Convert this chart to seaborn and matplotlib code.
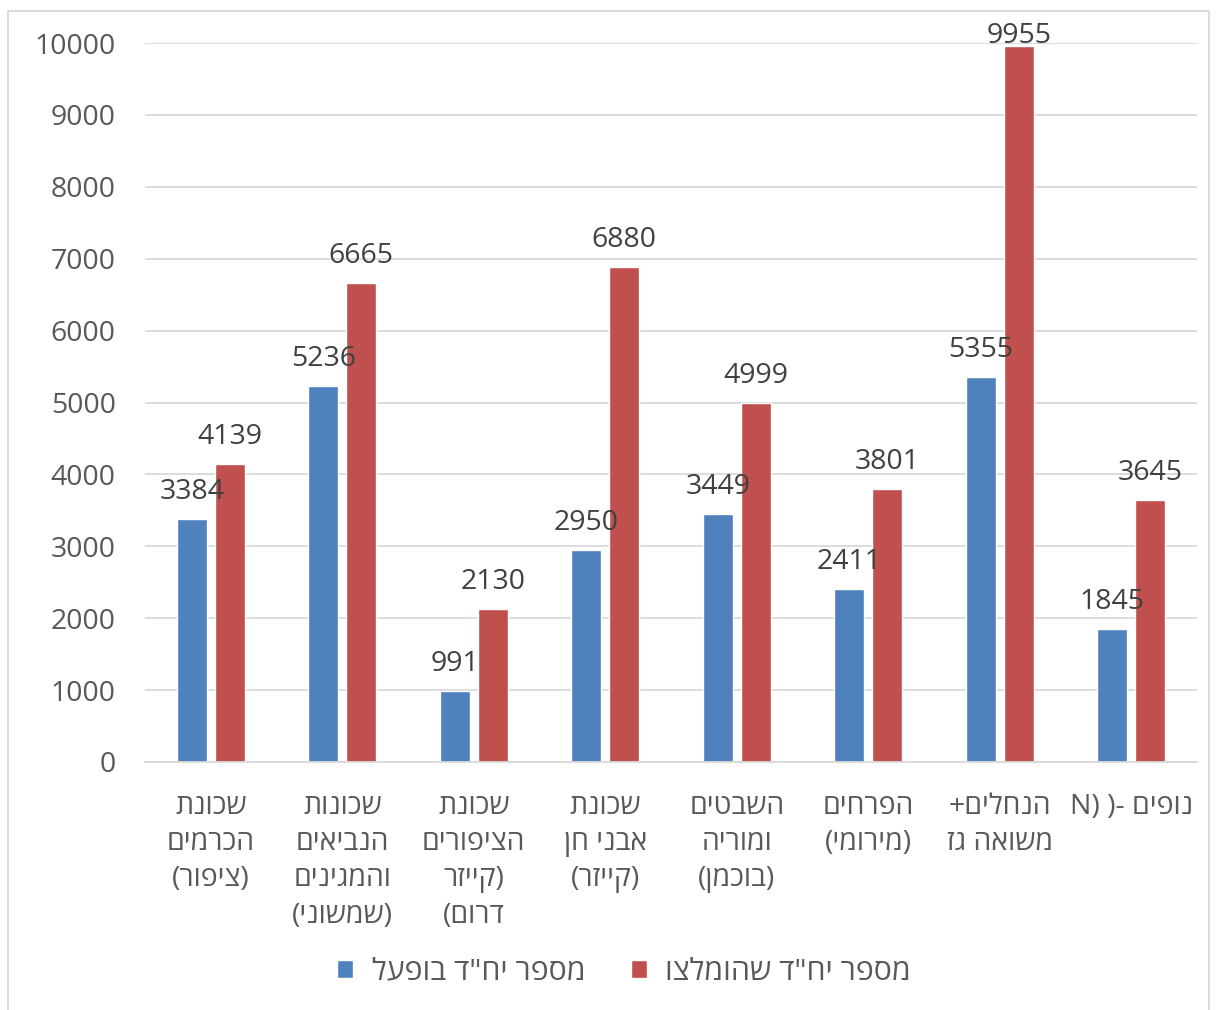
import matplotlib
matplotlib.use("Agg")
import matplotlib.pyplot as plt
import seaborn as sns
import pandas as pd
from matplotlib.patches import Rectangle

# Neighbourhood names, written in logical (reading) order
categories = [
    "שכונת\nהכרמים\n(ציפור)",
    "שכונות\nהנביאים\nוהמגינים\n(שמשוני)",
    "שכונת\nהציפורים\n(קייזר\nדרום)",
    "שכונת\nאבני חן\n(קייזר)",
    "השבטים\nומוריה\n(בוכמן)",
    "הפרחים\n(מירומי)",
    "הנחלים+\nמשואה גז",
    "נופים -( (N",
]

series_names = ['מספר יח"ד בופעל', 'מספר יח"ד שהומלצו']
actual_units = [3384, 5236, 991, 2950, 3449, 2411, 5355, 1845]
recommended_units = [4139, 6665, 2130, 6880, 4999, 3801, 9955, 3645]
y_ticks = [0, 1000, 2000, 3000, 4000, 5000, 6000, 7000, 8000, 9000, 10000]
colors = ["#4F81BD", "#C0504D"]


def visual(text):
    """Turn logical right-to-left text into left-to-right glyph order."""
    mirror = {"(": ")", ")": "("}
    return "\n".join("".join(mirror.get(c, c) for c in line[::-1])
                     for line in text.split("\n"))


sns.set_theme(style="white")
plt.rcParams["font.family"] = ["Open Sans", "DejaVu Sans"]

FS = 20.5
TEXT_GRAY = "#595959"

df = pd.DataFrame({
    "category": [visual(c) for c in categories] * 2,
    "value": actual_units + recommended_units,
    "series": [visual(series_names[0])] * len(actual_units)
    + [visual(series_names[1])] * len(recommended_units),
})

fig = plt.figure(figsize=(12.17, 10.10), dpi=100)
ax = fig.add_axes([145 / 1217, 1 - 762 / 1010, (1197 - 145) / 1217, (762 - 43) / 1010])

sns.barplot(
    data=df, x="category", y="value", hue="series",
    palette=colors, width=0.578, gap=0.22, ax=ax,
    saturation=1, legend=True, errorbar=None,
)

ax.set_ylim(0, 10000)
ax.set_yticks(y_ticks)
ax.set_xlim(-0.5, len(categories) - 0.5)
ax.yaxis.grid(True, color="#d9d9d9", linewidth=1.3)
ax.set_axisbelow(True)
for s in ["top", "right", "left"]:
    ax.spines[s].set_visible(False)
ax.spines["bottom"].set_color("#d9d9d9")
ax.spines["bottom"].set_linewidth(1.3)
ax.set_xlabel("")
ax.set_ylabel("")

ax.tick_params(axis="y", length=0, pad=21, labelsize=FS, labelcolor=TEXT_GRAY)
ax.tick_params(axis="x", length=0, pad=22, labelsize=FS, labelcolor=TEXT_GRAY)
for lbl in ax.get_xticklabels():
    lbl.set_linespacing(1.4)

# value labels sit above each bar, kept inside the chart at the top
px_per_unit = (762 - 43) / 10000
offset = 27 / px_per_unit
top_limit = 10000 + 7 / px_per_unit
for cont in ax.containers:
    for bar in cont:
        v = bar.get_height()
        ax.text(bar.get_x() + bar.get_width() / 2, min(v + offset, top_limit),
                f"{v:.0f}", ha="center", va="center", fontsize=FS,
                color="#404040", clip_on=False)

leg = ax.get_legend()
handles = leg.legend_handles
texts = [t.get_text() for t in leg.get_texts()]
leg.remove()
fig.legend(handles, texts, loc="center", bbox_to_anchor=(624 / 1217, 1 - 972 / 1010),
           ncol=2, frameon=False, fontsize=21.8, labelcolor=TEXT_GRAY,
           handlelength=0.55, handleheight=0.55, columnspacing=1.5, handletextpad=0.6)

fig.patches.append(Rectangle((8 / 1217, -0.01), (1209 - 8) / 1217, 1 - 11 / 1010 + 0.01,
                             transform=fig.transFigure, fill=False,
                             edgecolor="#d9d9d9", linewidth=1.3))

fig.savefig("out.png", dpi=100)
